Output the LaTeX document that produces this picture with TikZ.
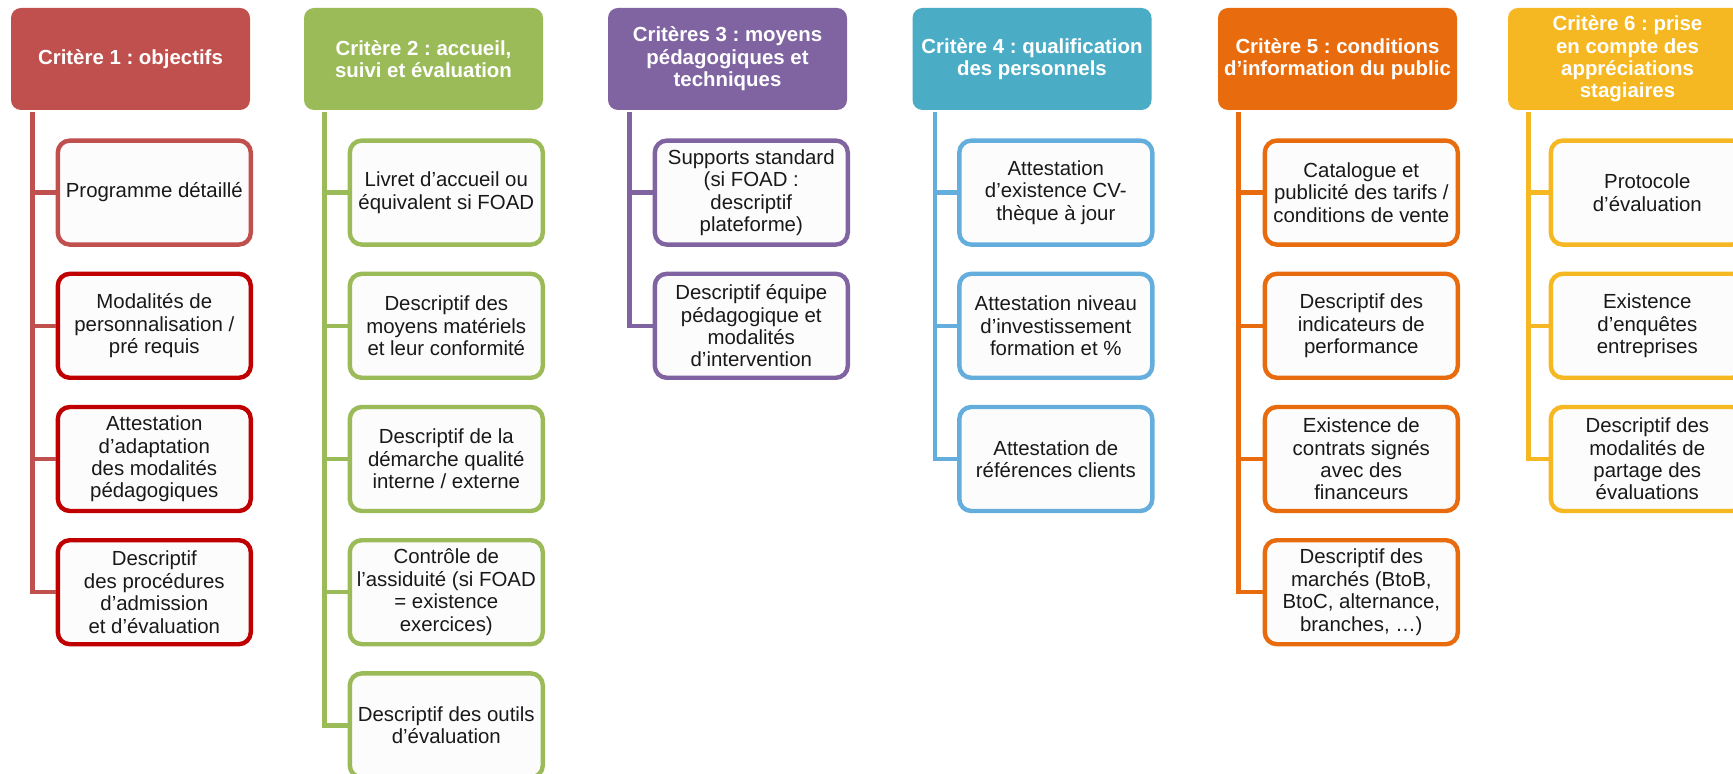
\documentclass[tikz,border=0pt]{standalone}
\usepackage{fontspec}
\setmainfont{Liberation Sans}
\usetikzlibrary{positioning}
\definecolor{CritRed}{RGB}{192,80,77}
\definecolor{CritRedDark}{RGB}{192,0,0}
\definecolor{CritGreen}{RGB}{155,187,89}
\definecolor{CritPurple}{RGB}{128,100,162}
\definecolor{CritTeal}{RGB}{75,172,198}
\definecolor{CritSky}{RGB}{99,174,220}
\definecolor{CritOrange}{RGB}{232,108,14}
\definecolor{CritGold}{RGB}{246,184,34}
\definecolor{SoftWhite}{RGB}{252,252,252}
\frenchspacing

\begin{document}
\begin{tikzpicture}[x=0.5pt,y=-0.5pt,node distance=12.4pt,every node/.style={font=\fontsize{10.2}{11.2}\selectfont}]
\tikzset{hblock/.style={fill=#1,text=white,font=\fontsize{10.2}{11.2}\selectfont\bfseries,rounded corners=5pt,minimum width=119.5pt,minimum height=51pt,align=center,inner sep=2pt},iblock/.style={draw=#1,fill=SoftWhite,line width=2.2pt,rounded corners=6pt,minimum width=96.5pt,minimum height=52pt,align=center,inner sep=2pt,text=black!90},tline/.style={draw=#1,line width=2.2pt}}
\path[use as bounding box,fill=white] (0,0) rectangle (1733,774);
\clip (0,0) rectangle (1733,774);
% headers
\node[hblock=CritRed] (h1) at (130.5,59) {Critère 1 : objectifs};
\node[hblock=CritGreen] (h2) at (423.5,59) {Critère 2 : accueil,\\suivi et évaluation};
\node[hblock=CritPurple] (h3) at (727.5,59) {Critères 3 : moyens\\pédagogiques et\\techniques};
\node[hblock=CritTeal] (h4) at (1032,59) {Critère 4 : qualification\\des personnels};
\node[hblock=CritOrange] (h5) at (1337.5,59) {Critère 5 : conditions\\d’information du public};
\node[hblock=CritGold] (h6) at (1627.5,59) {Critère 6 : prise\\en compte des\\appréciations\\stagiaires};
% critere 1
\node[iblock=CritRed,below=14pt of h1.south west,anchor=north west,xshift=22.5pt] (c1a) {Programme détaillé};
\node[iblock=CritRedDark,below=of c1a] (c1b) {Modalités de\\personnalisation /\\pré requis};
\node[iblock=CritRedDark,below=of c1b] (c1c) {Attestation\\d’adaptation\\des modalités\\pédagogiques};
\node[iblock=CritRedDark,below=of c1c] (c1d) {Descriptif\\des procédures\\d’admission\\et d’évaluation};
\coordinate (s1) at ([xshift=11pt,yshift=-1pt]h1.south west);
\draw[tline=CritRed] (s1) |- (c1d.west);
\draw[tline=CritRed] (c1a.west) -- (c1a.west -| s1);
\draw[tline=CritRed] (c1b.west) -- (c1b.west -| s1);
\draw[tline=CritRed] (c1c.west) -- (c1c.west -| s1);
% critere 2
\node[iblock=CritGreen,below=14pt of h2.south west,anchor=north west,xshift=22pt] (c2a) {Livret d’accueil ou\\équivalent si FOAD};
\node[iblock=CritGreen,below=of c2a] (c2b) {Descriptif des\\moyens matériels\\et leur conformité};
\node[iblock=CritGreen,below=of c2b] (c2c) {Descriptif de la\\démarche qualité\\interne / externe};
\node[iblock=CritGreen,below=of c2c] (c2d) {Contrôle de\\l’assiduité (si FOAD\\= existence\\exercices)};
\node[iblock=CritGreen,below=of c2d] (c2e) {Descriptif des outils\\d’évaluation};
\coordinate (s2) at ([xshift=10.5pt,yshift=-1pt]h2.south west);
\draw[tline=CritGreen] (s2) |- (c2e.west);
\draw[tline=CritGreen] (c2a.west) -- (c2a.west -| s2);
\draw[tline=CritGreen] (c2b.west) -- (c2b.west -| s2);
\draw[tline=CritGreen] (c2c.west) -- (c2c.west -| s2);
\draw[tline=CritGreen] (c2d.west) -- (c2d.west -| s2);
% critere 3
\node[iblock=CritPurple,below=14pt of h3.south west,anchor=north west,xshift=22.5pt] (c3a) {Supports standard\\(si FOAD :\\descriptif\\plateforme)};
\node[iblock=CritPurple,below=of c3a] (c3b) {Descriptif équipe\\pédagogique et\\modalités\\d’intervention};
\coordinate (s3) at ([xshift=11pt,yshift=-1pt]h3.south west);
\draw[tline=CritPurple] (s3) |- (c3b.west);
\draw[tline=CritPurple] (c3a.west) -- (c3a.west -| s3);
% critere 4
\node[iblock=CritSky,below=14pt of h4.south west,anchor=north west,xshift=22.5pt] (c4a) {Attestation\\d’existence CV-\\thèque à jour};
\node[iblock=CritSky,below=of c4a] (c4b) {Attestation niveau\\d’investissement\\formation et \%};
\node[iblock=CritSky,below=of c4b] (c4c) {Attestation de\\références clients};
\coordinate (s4) at ([xshift=11.5pt,yshift=-1pt]h4.south west);
\draw[tline=CritSky] (s4) |- (c4c.west);
\draw[tline=CritSky] (c4a.west) -- (c4a.west -| s4);
\draw[tline=CritSky] (c4b.west) -- (c4b.west -| s4);
% critere 5
\node[iblock=CritOrange,below=14pt of h5.south west,anchor=north west,xshift=22.5pt] (c5a) {Catalogue et\\publicité des tarifs /\\conditions de vente};
\node[iblock=CritOrange,below=of c5a] (c5b) {Descriptif des\\indicateurs de\\performance};
\node[iblock=CritOrange,below=of c5b] (c5c) {Existence de\\contrats signés\\avec des\\financeurs};
\node[iblock=CritOrange,below=of c5c] (c5d) {Descriptif des\\marchés (BtoB,\\BtoC, alternance,\\branches, …)};
\coordinate (s5) at ([xshift=10.5pt,yshift=-1pt]h5.south west);
\draw[tline=CritOrange] (s5) |- (c5d.west);
\draw[tline=CritOrange] (c5a.west) -- (c5a.west -| s5);
\draw[tline=CritOrange] (c5b.west) -- (c5b.west -| s5);
\draw[tline=CritOrange] (c5c.west) -- (c5c.west -| s5);
% critere 6
\node[iblock=CritGold,below=14pt of h6.south west,anchor=north west,xshift=20.5pt] (c6a) {Protocole\\d’évaluation};
\node[iblock=CritGold,below=of c6a] (c6b) {Existence\\d’enquêtes\\entreprises};
\node[iblock=CritGold,below=of c6b] (c6c) {Descriptif des\\modalités de\\partage des\\évaluations};
\coordinate (s6) at ([xshift=10.5pt,yshift=-1pt]h6.south west);
\draw[tline=CritGold] (s6) |- (c6c.west);
\draw[tline=CritGold] (c6a.west) -- (c6a.west -| s6);
\draw[tline=CritGold] (c6b.west) -- (c6b.west -| s6);
\end{tikzpicture}
\end{document}
